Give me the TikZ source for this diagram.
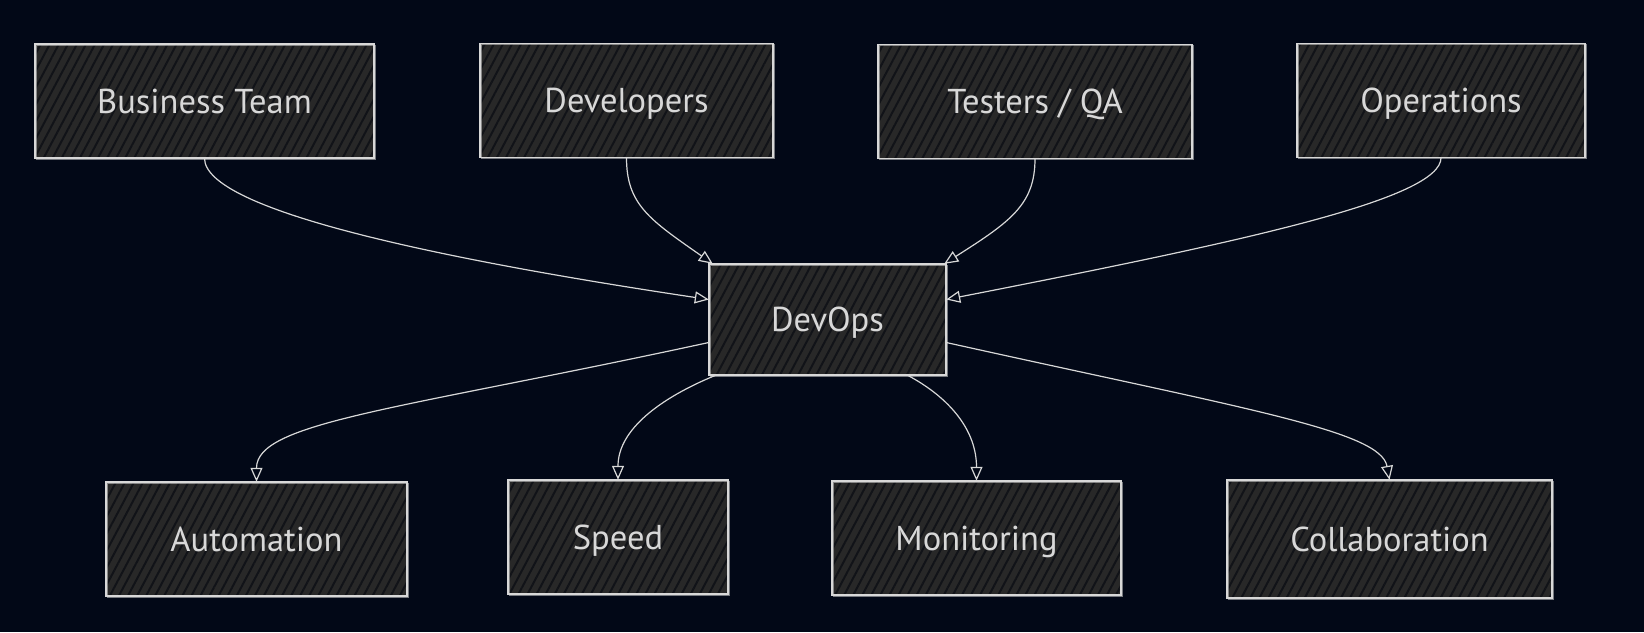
\documentclass[tikz,border=0pt]{standalone}
\usepackage{fontspec}
\setmainfont{PT Sans}
\usetikzlibrary{arrows.meta,patterns.meta}
\definecolor{bg}{HTML}{020817}
\definecolor{boxfill}{HTML}{282828}
\definecolor{hatch}{HTML}{111318}
\definecolor{ink}{HTML}{D8D8D8}
\tikzset{
  box/.style={fill=boxfill, minimum height=114pt,
    text=ink, font=\fontsize{34.5}{40}\selectfont, inner sep=0pt,
    text height=24pt, text depth=0pt,
    postaction={pattern={Lines[angle=62,distance=8pt,line width=2pt]}, pattern color=hatch},
    postaction={draw=ink, line width=1.3pt},
    postaction={draw=ink, line width=0.7pt, opacity=0.55, transform canvas={xshift=1.2pt,yshift=-1pt}}},
  link/.style={draw=ink, line width=1.2pt, -{Triangle[open,length=14pt,width=12pt,line width=1.2pt]}},
}
\begin{document}
\begin{tikzpicture}[x=1pt,y=-1pt]
\useasboundingbox (0,0) rectangle (1644,632);
\fill[bg] (0,0) rectangle (1644,632);
\node[box, minimum width=339pt] (bt) at (204.5,101) {Business Team};
\node[box, minimum width=293pt] (dev) at (626.5,100.5) {Developers};
\node[box, minimum width=314pt] (tq) at (1035,101.5) {Testers / QA};
\node[box, minimum width=288pt] (ops) at (1441,100.5) {Operations};
\node[box, minimum width=237pt, minimum height=111pt] (devops) at (827.5,319.5) {DevOps};
\node[box, minimum width=301pt] (auto) at (256.5,539) {Automation};
\node[box, minimum width=220pt] (speed) at (618,537) {Speed};
\node[box, minimum width=289pt] (mon) at (976.5,538) {Monitoring};
\node[box, minimum width=325pt, minimum height=118pt] (coll) at (1389.5,539) {Collaboration};
% incoming
\draw[link] (bt.south) .. controls +(0,53) and +(-260,-39) .. ([yshift=20pt]devops.west);
\draw[link] (dev.south) .. controls +(0,47) and +(-63,-44) .. ([xshift=4pt]devops.north west);
\draw[link] (tq.south) .. controls +(0,46) and +(66,-42) .. ([xshift=-2pt]devops.north east);
\draw[link] (ops.south) .. controls +(0,41) and +(302,-59) .. ([yshift=20pt]devops.east);
% outgoing
\draw[link] ([yshift=-23pt]devops.west) .. controls +(-309,67) and +(0,-60) .. (auto.north);
\draw[link] ([xshift=7pt]devops.south west) .. controls +(-56,23) and +(0,-50) .. (speed.north);
\draw[link] ([xshift=80pt]devops.south) .. controls +(43,23) and +(0,-50) .. (mon.north);
\draw[link] ([yshift=-23pt]devops.east) .. controls +(302,67) and +(-9,-49) .. (coll.north);
\end{tikzpicture}
\end{document}
